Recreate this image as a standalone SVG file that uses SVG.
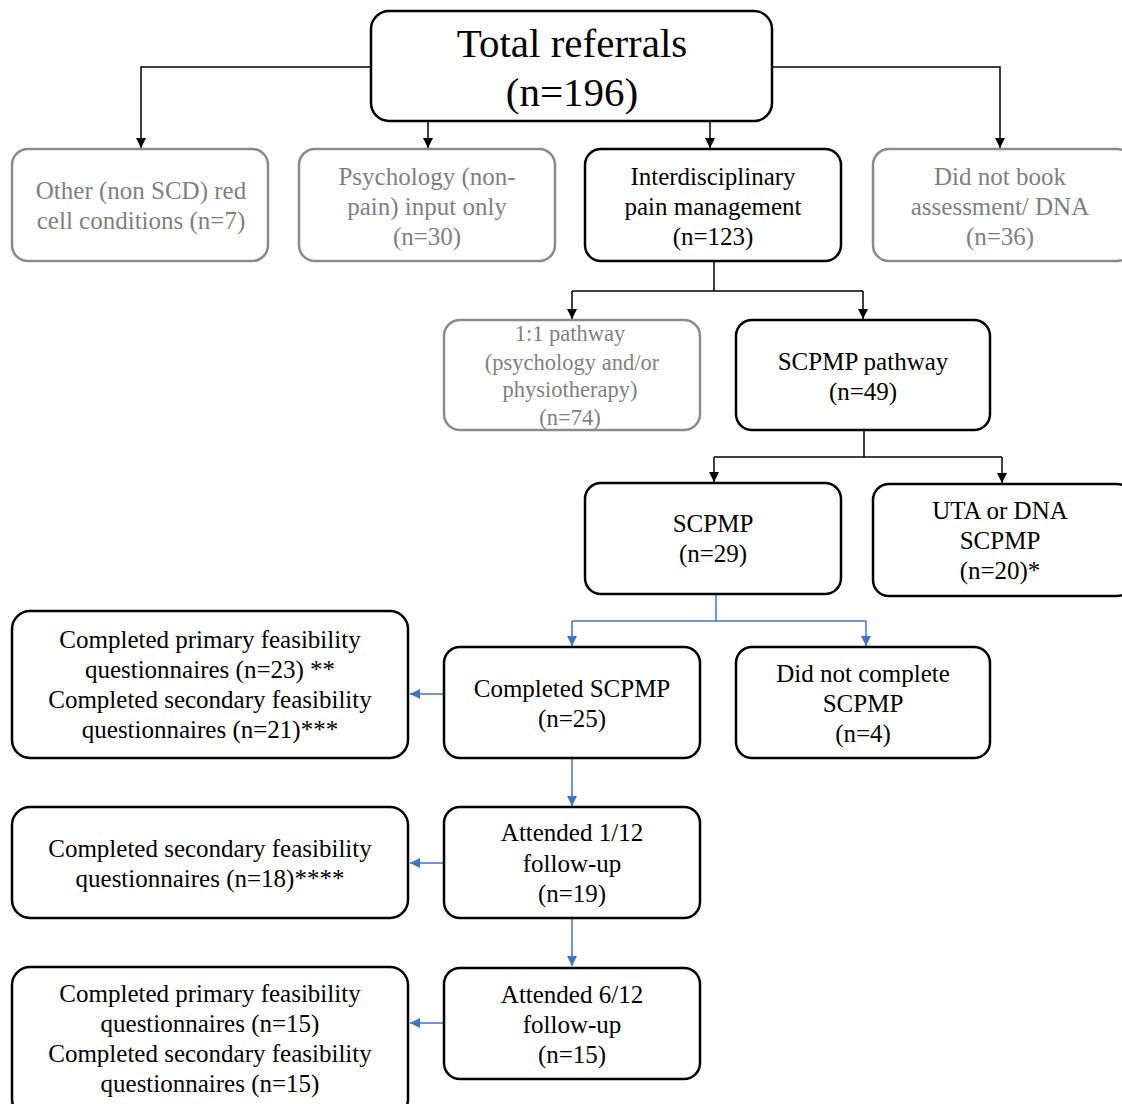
<svg xmlns="http://www.w3.org/2000/svg" width="1122" height="1104" viewBox="0 0 1122 1104">
<defs>
<marker id="ah" viewBox="0 0 10 10" refX="10" refY="5" markerWidth="10" markerHeight="10" markerUnits="userSpaceOnUse" orient="auto"><path d="M0,0 L10,5 L0,10 Z" fill="#000"/></marker>
<marker id="ab" viewBox="0 0 10 10" refX="10" refY="5" markerWidth="10" markerHeight="10" markerUnits="userSpaceOnUse" orient="auto"><path d="M0,0 L10,5 L0,10 Z" fill="#4472C4"/></marker>
</defs>
<style>
.b{fill:#fff;stroke:#000;stroke-width:2.5}
.g{fill:#fff;stroke:#8a8a8a;stroke-width:2.5}
text{font-family:"Liberation Serif","Times New Roman",serif;font-size:25px;text-anchor:middle;fill:#000}
.gt{fill:#7f7f7f}
.sm{font-size:22.5px}
.k{fill:none;stroke:#000;stroke-width:1.5}
.bl{fill:none;stroke:#4472C4;stroke-width:1.5}
</style>
<rect width="1122" height="1104" fill="#fff"/>
<g id="connectors">
<path class="k" d="M371,67 H141 V148" marker-end="url(#ah)"/>
<path class="k" d="M772,67 H1000 V148" marker-end="url(#ah)"/>
<path class="k" d="M428,121 V148" marker-end="url(#ah)"/>
<path class="k" d="M710,121 V148" marker-end="url(#ah)"/>
<path class="k" d="M714,261 V291"/>
<path class="k" d="M572,291 H863"/>
<path class="k" d="M572,291 V319" marker-end="url(#ah)"/>
<path class="k" d="M863,291 V319" marker-end="url(#ah)"/>
<path class="k" d="M864,430 V457"/>
<path class="k" d="M714,457 H1002"/>
<path class="k" d="M714,457 V482" marker-end="url(#ah)"/>
<path class="k" d="M1002,457 V483" marker-end="url(#ah)"/>
<path class="bl" d="M716,594 V621"/>
<path class="bl" d="M572,621 H866"/>
<path class="bl" d="M572,621 V646" marker-end="url(#ab)"/>
<path class="bl" d="M866,621 V646" marker-end="url(#ab)"/>
<path class="bl" d="M444,694 H410" marker-end="url(#ab)"/>
<path class="bl" d="M572,758 V806" marker-end="url(#ab)"/>
<path class="bl" d="M444,863 H410" marker-end="url(#ab)"/>
<path class="bl" d="M572,918 V966" marker-end="url(#ab)"/>
<path class="bl" d="M444,1023 H410" marker-end="url(#ab)"/>
</g>
<g id="total">
<rect class="b" x="371" y="11" width="401" height="110" rx="18"/>
<text x="572" y="57" style="font-size:41px">Total referrals</text>
<text x="572" y="106" style="font-size:41px">(n=196)</text>
</g>
<g id="other">
<rect class="g" x="12" y="149" width="256" height="112" rx="16"/>
<text class="gt" x="141" y="199">Other (non SCD) red</text>
<text class="gt" x="141" y="229">cell conditions (n=7)</text>
</g>
<g id="psychology">
<rect class="g" x="299" y="149" width="256" height="112" rx="16"/>
<text class="gt" x="427" y="185">Psychology (non-</text>
<text class="gt" x="427" y="215">pain) input only</text>
<text class="gt" x="427" y="245">(n=30)</text>
</g>
<g id="interdisciplinary">
<rect class="b" x="585" y="149" width="256" height="112" rx="16"/>
<text x="713" y="185">Interdisciplinary</text>
<text x="713" y="215">pain management</text>
<text x="713" y="245">(n=123)</text>
</g>
<g id="didnotbook">
<rect class="g" x="873" y="149" width="260" height="112" rx="16"/>
<text class="gt" x="1000" y="185">Did not book</text>
<text class="gt" x="1000" y="215">assessment/ DNA</text>
<text class="gt" x="1000" y="245">(n=36)</text>
</g>
<g id="one2one">
<rect class="g" x="444" y="320" width="256" height="110" rx="16"/>
<text class="gt sm" x="570" y="341">1:1 pathway</text>
<text class="gt sm" x="572" y="370">(psychology and/or</text>
<text class="gt sm" x="570" y="397">physiotherapy)</text>
<text class="gt sm" x="570" y="425">(n=74)</text>
</g>
<g id="scpmppathway">
<rect class="b" x="736" y="320" width="254" height="110" rx="16"/>
<text x="863" y="370">SCPMP pathway</text>
<text x="863" y="400">(n=49)</text>
</g>
<g id="scpmp">
<rect class="b" x="585" y="483" width="256" height="111" rx="16"/>
<text x="713" y="532">SCPMP</text>
<text x="713" y="562">(n=29)</text>
</g>
<g id="uta">
<rect class="b" x="873" y="484" width="260" height="112" rx="16"/>
<text x="1000" y="519">UTA or DNA</text>
<text x="1000" y="549">SCPMP</text>
<text x="1000" y="579">(n=20)*</text>
</g>
<g id="completedprimary1">
<rect class="b" x="12" y="611" width="396" height="147" rx="18"/>
<text x="210" y="648">Completed primary feasibility</text>
<text x="210" y="678">questionnaires (n=23) **</text>
<text x="210" y="708">Completed secondary feasibility</text>
<text x="210" y="738">questionnaires (n=21)***</text>
</g>
<g id="completedscpmp">
<rect class="b" x="444" y="647" width="256" height="111" rx="16"/>
<text x="572" y="697">Completed SCPMP</text>
<text x="572" y="727">(n=25)</text>
</g>
<g id="didnotcomplete">
<rect class="b" x="736" y="647" width="254" height="111" rx="16"/>
<text x="863" y="682">Did not complete</text>
<text x="863" y="712">SCPMP</text>
<text x="863" y="742">(n=4)</text>
</g>
<g id="completedsecondary">
<rect class="b" x="12" y="807" width="396" height="111" rx="18"/>
<text x="210" y="857">Completed secondary feasibility</text>
<text x="210" y="887">questionnaires (n=18)****</text>
</g>
<g id="attended1">
<rect class="b" x="444" y="807" width="256" height="111" rx="16"/>
<text x="572" y="841">Attended 1/12</text>
<text x="572" y="872">follow-up</text>
<text x="572" y="902">(n=19)</text>
</g>
<g id="completedprimary2">
<rect class="b" x="12" y="967" width="396" height="150" rx="18"/>
<text x="210" y="1002">Completed primary feasibility</text>
<text x="210" y="1032">questionnaires (n=15)</text>
<text x="210" y="1062">Completed secondary feasibility</text>
<text x="210" y="1092">questionnaires (n=15)</text>
</g>
<g id="attended6">
<rect class="b" x="444" y="968" width="256" height="111" rx="16"/>
<text x="572" y="1003">Attended 6/12</text>
<text x="572" y="1033">follow-up</text>
<text x="572" y="1063">(n=15)</text>
</g>
</svg>
